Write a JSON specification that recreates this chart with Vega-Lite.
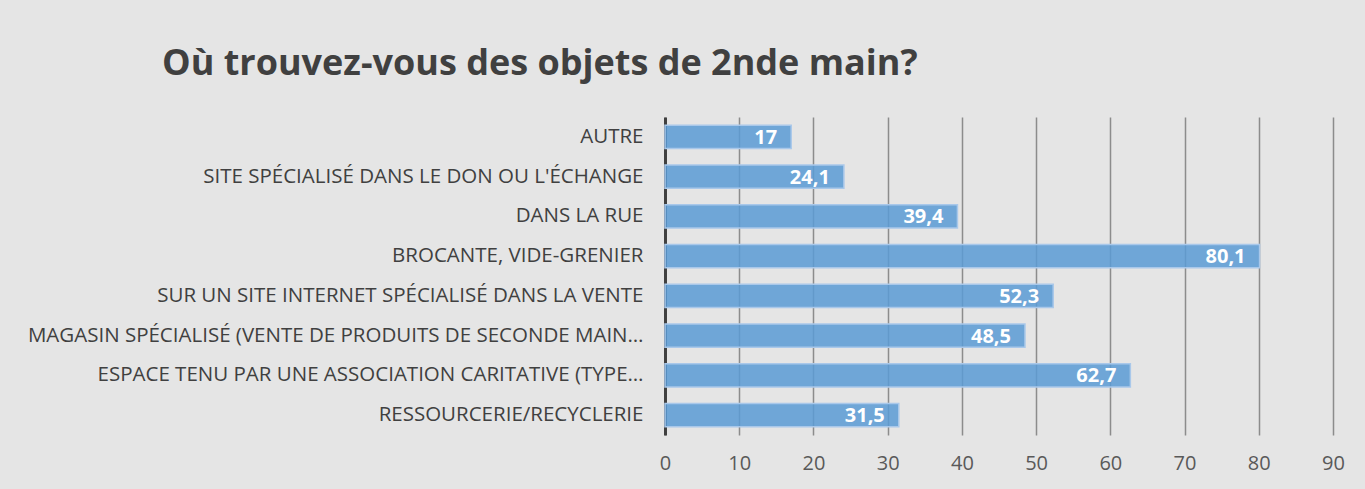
{
  "$schema": "https://vega.github.io/schema/vega-lite/v6.json",
  "width": 668,
  "height": 318,
  "autosize": {"type": "none"},
  "padding": {"left": 665, "top": 117, "right": 32, "bottom": 54},
  "background": "#e5e5e5",
  "title": {
    "text": "Où trouvez-vous des objets de 2nde main?",
    "anchor": "start",
    "frame": "group",
    "dx": -503,
    "dy": 31,
    "offset": 37,
    "baseline": "alphabetic",
    "font": "Open Sans",
    "fontSize": 36,
    "fontWeight": "bold",
    "color": "#404040"
  },
  "config": {
    "locale": {"number": {"decimal": ",", "thousands": " ", "grouping": [3], "currency": ["", " €"]}},
    "view": {"stroke": null}
  },
  "data": {
    "values": [
      {"lieu": "AUTRE", "pct": 17},
      {"lieu": "SITE SPÉCIALISÉ DANS LE DON OU L'ÉCHANGE", "pct": 24.1},
      {"lieu": "DANS LA RUE", "pct": 39.4},
      {"lieu": "BROCANTE, VIDE-GRENIER", "pct": 80.1},
      {"lieu": "SUR UN SITE INTERNET SPÉCIALISÉ DANS LA VENTE", "pct": 52.3},
      {"lieu": "MAGASIN SPÉCIALISÉ (VENTE DE PRODUITS DE SECONDE MAIN…", "pct": 48.5},
      {"lieu": "ESPACE TENU PAR UNE ASSOCIATION CARITATIVE (TYPE…", "pct": 62.7},
      {"lieu": "RESSOURCERIE/RECYCLERIE", "pct": 31.5}
    ]
  },
  "encoding": {
    "y": {
      "field": "lieu",
      "type": "nominal",
      "sort": null,
      "title": null,
      "scale": {"paddingInner": 0.42, "paddingOuter": 0.21},
      "axis": {
        "domainColor": "#404040",
        "domainWidth": 3,
        "ticks": false,
        "labelPadding": 22,
        "labelFont": "Open Sans",
        "labelFontSize": 20.5,
        "labelColor": "#404040",
        "labelLimit": 700,
        "grid": false
      }
    },
    "x": {
      "field": "pct",
      "type": "quantitative",
      "title": null,
      "scale": {"domain": [0, 90], "nice": false},
      "axis": {
        "values": [0, 10, 20, 30, 40, 50, 60, 70, 80, 90],
        "domain": false,
        "ticks": false,
        "grid": true,
        "gridColor": "#8c8c8c",
        "gridWidth": 1.5,
        "labelFlush": false,
        "labelOverlap": false,
        "labelPadding": 18,
        "labelFont": "Open Sans",
        "labelFontSize": 20,
        "labelColor": "#595959"
      }
    }
  },
  "layer": [
    {
      "mark": {"type": "bar", "fill": "#5b9bd5", "fillOpacity": 0.85, "stroke": "#a9c8ea", "strokeWidth": 1.5}
    },
    {
      "mark": {"type": "text", "align": "right", "baseline": "middle", "dx": -14, "dy": 1, "font": "Open Sans", "fontSize": 20, "fontWeight": "bold", "color": "white"},
      "encoding": {"text": {"field": "pct", "type": "quantitative", "format": "~g"}}
    }
  ]
}
